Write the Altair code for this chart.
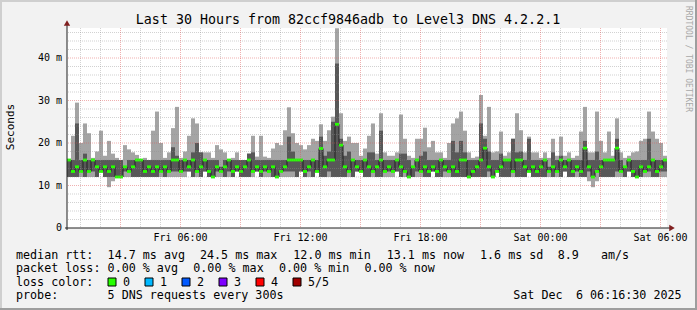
import altair as alt
import pandas as pd

# ---------------- data (ms), one value per 12-minute bin ----------------
p5 = [16,21.7,29.5,20,24.6,22.3,16.5,18,22.9,17,
      20.5,17.5,16.5,16,19.5,18.5,17.8,17.2,16,16.5,
      16,22.9,27.4,20,16.5,17.8,23.5,28.5,16.5,18,
      21.7,25.8,24.6,17.8,17.8,17.8,16.5,19.5,18.5,17.8,
      16,16.5,17.8,16,16,17.5,21.7,16.8,21.7,16.8,
      16.5,18.7,20,19.5,23,28.4,22.3,20,19.5,18.5,
      19.5,21,20.5,24.4,20.5,23,26.2,47,27,20.5,
      21.5,20,20,17,18.7,21.7,24.6,17.5,27,17.8,
      17,17,17.8,26.7,21,17,16.5,21,21,23.6,
      19,20.5,17.8,17.8,16.5,20,24.6,25.8,27.4,22.9,
      17.8,16.5,16.8,31.3,21.7,28.5,17.8,18,22.7,17,
      17.8,21,27,23,17.8,21.5,17.8,17.8,16.5,17.8,
      16.5,21,17,21.5,17,17.8,16.5,17,22.7,28.5,
      17.8,17.8,27.4,20.5,17.8,22.7,17,25.8,17.8,16.5,
      17,17.8,18,20.5,21,27.4,22.7,21,20,17]

p4 = [16,16,24.6,16,17.5,16,16,16,16,16,
      16,16,16,16,14.4,16,16,16,16,16,
      16,16,16,16,16,16,19,17,16,16,
      16,17.8,20,17.8,16,16,16,16,14.4,16,
      16,16,16,16,16,17.5,17.8,16,16,16,
      16,16,16,16,16,21.5,18,16,16,16,
      16,16,16,21.5,17,18,25,38.7,21,17,
      18,16,16,16,16,17.8,17.8,16,22.9,16,
      16,16,16,17.5,17.5,16,14.4,16,17,18,
      16,16,16,16,16,16,20.5,17.8,20.5,17.8,
      16,16,16,24.6,21,18,16,16,17.5,16,
      16,21,17.8,18,16,21,16,16,16,16,
      14.4,17.8,16,17,16,16,16,16,16,20.5,
      16,16,18,16,16,16,16,21,16,14.4,
      16,16,16,16,16,21,16,16,16,16]

p3 = [16,13.3,14.4,13.3,16,13.3,16,14.4,13.3,14.4,
      13.3,14.4,12,12,14.4,13.3,14.4,16,16,13.3,
      14.4,13.3,14.4,13.3,14.4,13.3,16,16,13.3,16,
      14.4,16,13.3,14.4,16,13.3,12,14.4,13.3,14.4,
      16,13.3,14.4,13.3,14.4,16,13.3,14.4,13.3,14.4,
      13.3,14.4,12,13.3,14.4,16,16,16,16,13.3,
      14.4,16,13.3,18.7,14.4,16,16,24.4,19.5,14.4,
      13.3,16,14.4,13.3,16,14.4,13.3,14.4,16,13.3,
      14.4,13.3,16,14.4,13.3,12,14.4,16,13.3,14.4,
      13.3,14.4,13.3,16,14.4,13.3,14.4,13.3,16,16,
      12,13.3,14.4,16,18.8,14.4,12,13.3,14.4,16,
      16,13.3,16,16,14.4,13.3,14.4,13.3,14.4,16,
      13.3,14.4,13.3,16,14.4,16,13.3,14.4,13.3,18.8,
      14.4,12,13.3,14.4,16,16,16,18.8,13.3,14.4,
      16,13.3,12,14.4,13.3,14.4,16,13.3,14.4,16]

p2 = [12,12,12,13.3,12,13.3,13.3,12,13.3,12,
      12,12,12,12,13.3,13.3,12,12,12,12,
      12,12,12,13.3,12,13.3,13.3,13.3,13.3,13.3,
      13.3,12,13.3,12,13.3,12,12,13.3,13.3,12,
      13.3,12,13.3,12,12,12,13.3,13.3,12,13.3,
      13.3,12,12,13.3,13.3,13.3,13.3,12,13.3,12,
      13.3,12,13.3,12,12,13.3,12,12,12,12,
      13.3,12,13.3,13.3,12,12,13.3,12,12,13.3,
      13.3,13.3,13.3,12,13.3,12,12,13.3,13.3,12,
      12,13.3,12,12,13.3,13.3,12,12,12,12,
      12,12,12,12,12,13.3,12,13.3,12,12,
      12,13.3,12,12,12,13.3,12,12,12,12,
      13.3,12,13.3,12,13.3,12,12,13.3,12,12,
      13.3,12,13.3,12,12,12,12,13.3,13.3,12,
      13.3,12,12,12,13.3,13.3,12,12,13.3,13.3]

p1 = [12,12,12,12,12,12,12,12,13.3,12,
      9.6,11,12,12,12,12,12,12,12,12,
      12,12,12,12,12,12,12,12,12,12,
      13.3,12,12,12,13.3,12,12,12,12,12,
      12,12,13.3,12,12,12,12,13.3,12,12,
      12,12,12,12,12,12,12,12,13.3,12,
      12,12,13.3,12,12,12,12,12,12,12,
      12,12,13.3,13.3,12,12,12,12,12,12,
      12,12,13.3,12,12,12,12,12,12,12,
      12,13.3,12,12,12,12,12,12,12,12,
      12,12,12,12,12,12,12,13.3,12,12,
      12,12,12,12,12,13.3,12,12,12,12,
      12,12,12,12,13.3,12,12,12,12,12,
      11,9.6,11,12,12,12,12,12,12,12,
      13.3,12,12,12,12,12,12,12,12,12]

x_tick_hours = [6, 12, 18, 24, 30]
x_tick_labels = ["Fri 06:00", "Fri 12:00", "Fri 18:00", "Sat 00:00", "Sat 06:00"]
y_tick_values = [0, 10, 20, 30, 40]
y_tick_labels = ["0", "10 m", "20 m", "30 m", "40 m"]
y_minor = [v for v in range(2, 47, 2) if v % 10]
y_major = [10, 20, 30, 40]
x_minor = [h for h in range(1, 31) if h % 3]
x_major = [h for h in range(3, 31, 3)]

loss_labels = ["0", "1", "2", "3", "4", "5/5"]
loss_colors = ["#26ff00", "#00b8ff", "#0059ff", "#7e00ff", "#ff0000", "#a00000"]

title_text = "Last 30 Hours from 82ccf9846adb to Level3 DNS 4.2.2.1"

# ---------------- frame ----------------
OX, OY = 67, 28          # plot origin in the 697x310 picture
W, H = 600, 200
T0 = 0.325               # hours after Fri 00:00 at the left edge
STEP = 0.2               # 12 minutes per bin
YMAX = 47.06
FONT = "DejaVu Sans Mono"

n = len(p3)
df = pd.DataFrame(dict(
    t0=[T0 + i * STEP for i in range(n)],
    t1=[T0 + (i + 1) * STEP for i in range(n)],
    p1=p1, p2=p2, p3=p3, p4=p4, p5=p5))
df["g0"] = df.p3 - 0.33
df["g1"] = df.p3 + 0.33
line_df = pd.DataFrame(dict(t=list(df.t0) + [df.t1.iloc[-1]],
                            m=list(df.p3) + [df.p3.iloc[-1]]))

xs = alt.Scale(domain=[T0, T0 + 30], nice=False, zero=False)
ys = alt.Scale(domain=[0, YMAX], nice=False, zero=False)


def X(f):
    return alt.X(f, scale=xs, axis=None)


def Y(f):
    return alt.Y(f, scale=ys, axis=None)


light = alt.Chart(df).mark_rect(color="#a4a4a4").encode(
    x=X("t0:Q"), x2="t1", y=Y("p1:Q"), y2="p5")
dark = alt.Chart(df).mark_rect(color="#585858").encode(
    x=X("t0:Q"), x2="t1", y=Y("p2:Q"), y2="p4")
med_line = alt.Chart(line_df).mark_line(interpolate="step-after", color="#202020",
                                         strokeWidth=1).encode(x=X("t:Q"), y=Y("m:Q"))
green = alt.Chart(df).mark_rect(color=loss_colors[0]).encode(
    x=X("t0:Q"), x2="t1", y=Y("g0:Q"), y2="g1")


def hgrid(vals, color, op):
    return alt.Chart(pd.DataFrame({"v": vals})).mark_rule(
        color=color, opacity=op, strokeWidth=1, strokeDash=[1, 1]).encode(y=Y("v:Q"))


def vgrid(vals, color, op):
    return alt.Chart(pd.DataFrame({"v": vals})).mark_rule(
        color=color, opacity=op, strokeWidth=1, strokeDash=[1, 1]).encode(x=X("v:Q"))


dummy = pd.DataFrame({"d": [0]})


def box(x1, y1, x2, y2, fill, stroke=None):
    kw = dict(fill=fill)
    if stroke:
        kw.update(stroke=stroke, strokeWidth=1)
    return alt.Chart(dummy).mark_rect(**kw).encode(
        x=alt.value(x1 - OX), x2=alt.value(x2 - OX),
        y=alt.value(y1 - OY), y2=alt.value(y2 - OY))


def text(s, x, y, size=11.7, color="black", align="left", baseline="alphabetic", angle=0):
    return alt.Chart(dummy).mark_text(text=s, font=FONT, fontSize=size, color=color,
                                      align=align, baseline=baseline, angle=angle).encode(
        x=alt.value(x - OX), y=alt.value(y - OY))


layers = [light, dark, med_line, green,
          hgrid(y_minor, "#8f8f8f", 0.4), vgrid(x_minor, "#8f8f8f", 0.4),
          hgrid(y_major, "#de4f4f", 0.45), vgrid(x_major, "#de4f4f", 0.45)]

# tick labels through the scales
layers.append(alt.Chart(pd.DataFrame({"h": x_tick_hours, "lab": x_tick_labels}))
              .mark_text(font=FONT, fontSize=10, color="black", align="center",
                         baseline="middle")
              .encode(x=X("h:Q"), y=alt.value(H + 9.5), text="lab:N"))
layers.append(alt.Chart(pd.DataFrame({"v": y_tick_values, "lab": y_tick_labels}))
              .mark_text(font=FONT, fontSize=10, color="black", align="right",
                         baseline="middle")
              .encode(y=Y("v:Q"), x=alt.value(-5), text="lab:N"))

# axes lines + arrows
layers.append(alt.Chart(dummy).mark_rule(color="#1f1f1f", strokeWidth=1).encode(
    x=alt.value(0), y=alt.value(H + 2), y2=alt.value(-3)))
layers.append(alt.Chart(dummy).mark_rule(color="#1f1f1f", strokeWidth=1).encode(
    y=alt.value(H), x=alt.value(-2), x2=alt.value(W + 3)))
layers.append(alt.Chart(dummy).mark_point(shape="triangle-up", filled=True, size=40,
                                           color="#801f1f", opacity=1).encode(
    x=alt.value(0), y=alt.value(-5)))
layers.append(alt.Chart(dummy).mark_point(shape="triangle-right", filled=True, size=40,
                                           color="#801f1f", opacity=1).encode(
    x=alt.value(W + 5), y=alt.value(H)))

# frame shading
layers += [box(0, 0, 697, 2, "#cfcfcf"), box(0, 0, 2, 310, "#cfcfcf"),
           box(0, 308, 697, 310, "#9e9e9e"), box(695, 0, 697, 310, "#9e9e9e")]

# texts
layers.append(text(title_text, 348, 24, size=13.3, align="center"))
layers.append(text("Seconds", 11, 127, size=11, align="center", baseline="middle", angle=270))
layers.append(text("RRDTOOL / TOBI OETIKER", 688, 6, size=8, color="#a8a8a8",
                   baseline="middle", angle=90))

r1, r2, r3, r4 = 258.5, 272, 285.7, 299.3
for s, x in [("median rtt:", 16), ("14.7 ms avg", 107.6), ("24.5 ms max", 200),
             ("12.0 ms min", 293.3), ("13.1 ms now", 386.7), ("1.6 ms sd", 480),
             ("8.9", 557.8), ("am/s", 600.9)]:
    layers.append(text(s, x, r1))
for s, x in [("packet loss:", 16), ("0.00 % avg", 107.6), ("0.00 % max", 193.3),
             ("0.00 % min", 279), ("0.00 % now", 364.4)]:
    layers.append(text(s, x, r2))
layers.append(text("loss color:", 16, r3))
for k, (lab, col) in enumerate(zip(loss_labels, loss_colors)):
    bx = 108 + 37 * k
    layers.append(box(bx, 278, bx + 8, 286, col, stroke="#000000"))
    layers.append(text(lab, bx + 15, r3))
layers.append(text("probe:", 16, r4))
layers.append(text("5 DNS requests every 300s", 107.6, r4))
layers.append(text("Sat Dec", 513.3, r4))
layers.append(text("6 06:16:30 2025", 576, r4))

chart = alt.layer(*layers).properties(
    width=W, height=H,
    padding={"left": OX, "top": OY, "right": 697 - OX - W, "bottom": 310 - OY - H},
    autosize=alt.AutoSizeParams(type="none"),
    background="#f2f2f2",
).configure_view(strokeWidth=0, fill="white")

chart.save("out.html", embed_options={"renderer": "svg", "actions": False})
